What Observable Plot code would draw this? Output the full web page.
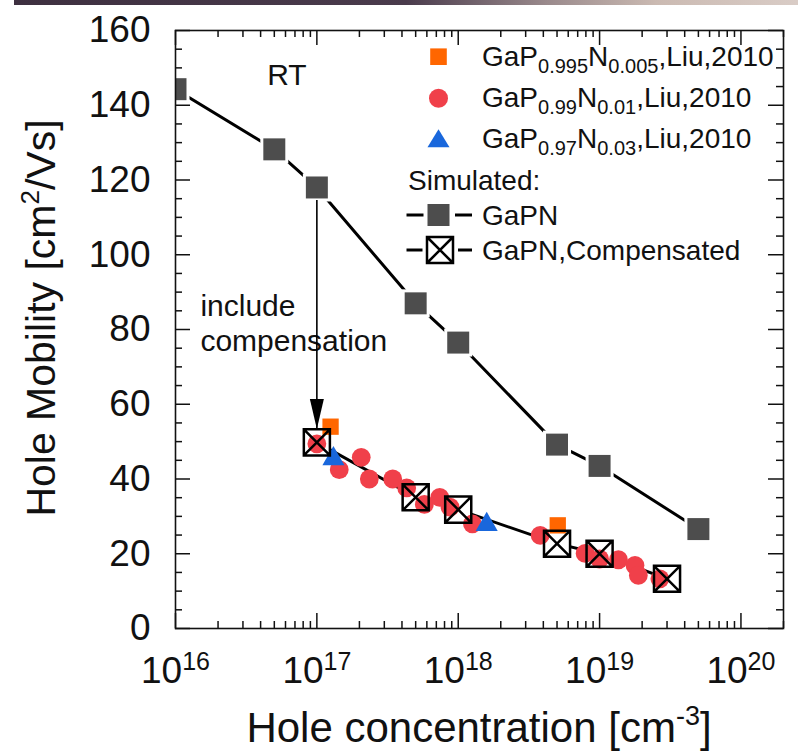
<!DOCTYPE html>
<html><head><meta charset="utf-8">
<script src="https://cdn.jsdelivr.net/npm/d3@7"></script>
<script src="https://cdn.jsdelivr.net/npm/@observablehq/plot@0.6"></script>
<style>
html,body{margin:0;padding:0;background:#fff;}
#wrap{position:relative;width:798px;height:752px;overflow:hidden;background:#fff;}
#band{position:absolute;top:0;left:14px;right:0;height:5px;background:linear-gradient(to right,#3e3040 0%,#4a3b4c 50%,#9a8a8c 68%,#cbbab2 82%,#d9ccc6 100%);}
</style></head>
<body><div id="wrap"><div id="chart"></div><div id="band"></div></div>
<script>
// ---- data ----
const gapnX = [1e16, 5e16, 1e17, 5e17, 1e18, 5e18, 1e19, 5e19];
const gapnY = [144.3, 128.2, 118.0, 87.0, 76.5, 49.2, 43.5, 26.6];
const compX = [1e17, 5e17, 1e18, 5e18, 1e19, 3e19];
const compY = [49.8, 35.1, 31.8, 22.7, 20.0, 13.3];
const redX = [1.0e17, 1.44e17, 2.06e17, 2.35e17, 3.44e17, 4.32e17, 5.76e17, 7.4e17, 8.75e17, 1.26e18, 3.8e18, 7.9e18, 1.0e19, 1.36e19, 1.78e19, 1.88e19, 2.67e19];
const redY = [49.4, 42.5, 45.8, 40.0, 40.0, 37.6, 33.2, 35.1, 32.5, 28.0, 24.9, 20.1, 18.6, 18.4, 16.9, 14.2, 13.3];
const blueX = [1.31e17, 1.59e18];
const blueY = [45.4, 27.8];
const orangeX = [1.25e17, 5.06e18];
const orangeY = [54.0, 27.6];

const xMajor = [1e16, 1e17, 1e18, 1e19, 1e20];
const xMinor = [];
for (const e of [16, 17, 18, 19]) for (const m of [2,3,4,5,6,7,8,9]) xMinor.push(m * 10 ** e);
xMinor.push(2e20);
const yMajor = [0, 20, 40, 60, 80, 100, 120, 140, 160];
const yMinor = d3.range(0, 161, 5).filter(v => v % 20 !== 0);

const legendLabels = [
  [["GaP"], ["0.995", 1], ["N"], ["0.005", 1], [",Liu,2010"]],
  [["GaP"], ["0.99", 1], ["N"], ["0.01", 1], [",Liu,2010"]],
  [["GaP"], ["0.97", 1], ["N"], ["0.03", 1], [",Liu,2010"]]
];
const simLabels = ["Simulated:", "GaPN", "GaPN,Compensated"];

const rtNote = [{x: 4.45e16, y: 147.9, text: "RT"}];
const compNote = [{x: 1.5e16, y: 90.3, text: "include\ncompensation"}];
const arrowNote = [{x: 1e17, y1: 114.5, y2: 53.4}];

// ---- tables ----
const gapn = gapnX.map((x, i) => ({x, y: gapnY[i]}));
const comp = compX.map((x, i) => ({x, y: compY[i]}));
const red = redX.map((x, i) => ({x, y: redY[i]}));
const blue = blueX.map((x, i) => ({x, y: blueY[i]}));
const orange = orangeX.map((x, i) => ({x, y: orangeY[i]}));

const boxX = {draw(ctx, size) {
  const s = Math.sqrt(size) / 2;
  ctx.moveTo(-s, -s); ctx.lineTo(s, -s); ctx.lineTo(s, s); ctx.lineTo(-s, s); ctx.closePath();
  ctx.moveTo(-s, -s); ctx.lineTo(s, s); ctx.moveTo(s, -s); ctx.lineTo(-s, s);
}};
const arrowHead = {draw(ctx) { ctx.moveTo(0, 0); ctx.lineTo(-7, -30); ctx.lineTo(7, -30); ctx.closePath(); }};

const W = 798, H = 752, mL = 175, mR = 15, mT = 30, mB = 124;
const pw = W - mL - mR, ph = H - mT - mB;
const ink = "#111";
const FONT = "'Liberation Sans', Arial, Helvetica, sans-serif";

const plot = Plot.plot({
  width: W, height: H, marginLeft: mL, marginRight: mR, marginTop: mT, marginBottom: mB,
  style: {fontFamily: FONT, background: "white", color: ink},
  x: {type: "log", domain: [1e16, 2e20]},
  y: {domain: [0, 160]},
  marks: [
    Plot.axisX({ticks: xMajor, tickSize: 0, tickPadding: 28, fontSize: 37, label: null,
      tickFormat: d => "10^" + Math.round(Math.log10(d))}),
    Plot.axisY({ticks: yMajor, tickSize: 0, tickPadding: 25, fontSize: 37, label: null}),
    // inward ticks
    Plot.ruleX(xMajor, {insetTop: ph - 15, stroke: ink, strokeWidth: 1.5}),
    Plot.ruleX(xMinor, {insetTop: ph - 7, stroke: ink, strokeWidth: 1.5}),
    Plot.ruleX(xMajor, {insetBottom: ph - 15, stroke: ink, strokeWidth: 1.5}),
    Plot.ruleX(xMinor, {insetBottom: ph - 7, stroke: ink, strokeWidth: 1.5}),
    Plot.ruleY(yMajor, {insetRight: pw - 15, stroke: ink, strokeWidth: 1.5}),
    Plot.ruleY(yMinor, {insetRight: pw - 7, stroke: ink, strokeWidth: 1.5}),
    Plot.ruleY(yMajor, {insetLeft: pw - 15, stroke: ink, strokeWidth: 1.5}),
    Plot.ruleY(yMinor, {insetLeft: pw - 7, stroke: ink, strokeWidth: 1.5}),
    // annotations
    Plot.text(rtNote, {x: "x", y: "y", text: "text", textAnchor: "start", fontSize: 30, fill: ink}),
    Plot.text(compNote, {x: "x", y: "y", text: "text", textAnchor: "start", lineAnchor: "top", lineHeight: 1.17, fontSize: 30, fill: ink}),
    // simulated GaPN
    Plot.line(gapn, {x: "x", y: "y", stroke: "#000", strokeWidth: 3, clip: true}),
    Plot.dot(gapn, {x: "x", y: "y", symbol: "square", r: 15.8, fill: "white", stroke: "none", clip: true}),
    Plot.dot(gapn, {x: "x", y: "y", symbol: "square", r: 12.4, fill: "#4d4d4d", stroke: "none", clip: true}),
    // compensated line + white box interiors
    Plot.line(comp, {x: "x", y: "y", stroke: "#000", strokeWidth: 3}),
    Plot.dot(comp, {x: "x", y: "y", symbol: "square", r: 14.7, fill: "white", stroke: "none"}),
    // experimental
    Plot.dot(red, {x: "x", y: "y", r: 9.4, fill: "#f0404a", stroke: "none"}),
    Plot.dot(blue, {x: "x", y: "y", symbol: "triangle", r: 8.2, fill: "#1967dc", stroke: "none"}),
    Plot.dot(orange, {x: "x", y: "y", symbol: "square", r: 9.2, fill: "#ff6600", stroke: "none"}),
    // compensated boxes
    Plot.dot(comp, {x: "x", y: "y", symbol: boxX, r: 14.7, fill: "none", stroke: "#000", strokeWidth: 2.5}),
    // arrow
    Plot.ruleX(arrowNote, {x: "x", y1: "y1", y2: "y2", stroke: "#000", strokeWidth: 1.6}),
    Plot.dot(arrowNote, {x: "x", y: "y2", symbol: arrowHead, r: 5, fill: "#000", stroke: "none"}),
    Plot.frame({stroke: ink, strokeWidth: 1.6})
  ]
});
document.getElementById("chart").appendChild(plot);

const svg = d3.select(plot);
const NS = "http://www.w3.org/2000/svg";

// superscripts in x tick labels
plot.querySelectorAll('g[aria-label="x-axis tick label"] text').forEach(t => {
  const [b, e] = t.textContent.split("^");
  t.textContent = "";
  const t1 = document.createElementNS(NS, "tspan"); t1.textContent = b; t.appendChild(t1);
  const t2 = document.createElementNS(NS, "tspan"); t2.textContent = e;
  t2.setAttribute("dy", "-13"); t2.setAttribute("font-size", "25"); t.appendChild(t2);
});

function rich(sel, parts, fs, subFs, shift) {
  let cur = 0;
  for (const [txt, sub] of parts) {
    const off = sub ? shift : 0;
    const ts = sel.append("tspan").text(txt).attr("dy", off - cur);
    if (sub) ts.attr("font-size", subFs);
    cur = off;
  }
}

// axis titles
const xt = svg.append("text").attr("x", (mL + W - mR) / 2).attr("y", 742)
  .attr("text-anchor", "middle").attr("font-size", 42).attr("fill", ink);
rich(xt, [["Hole concentration [cm"], ["-3", 1], ["]"]], 42, 27, -17);
const yt = svg.append("text").attr("transform", "translate(55,318) rotate(-90)")
  .attr("text-anchor", "middle").attr("font-size", 41).attr("fill", ink);
rich(yt, [["Hole Mobility [cm"], ["2", 1], ["/Vs]"]], 41, 26, -16);

// legend
const lg = svg.append("g").attr("font-size", 28).attr("fill", ink).attr("text-anchor", "start");
const rowY = [66, 107, 148];
const symX = 438.5, textX = 482;
lg.append("rect").attr("x", symX - 8.3).attr("y", 56.7 - 8.3).attr("width", 16.6).attr("height", 16.6).attr("fill", "#ff6600");
lg.append("circle").attr("cx", symX).attr("cy", 98.3).attr("r", 9.5).attr("fill", "#f0404a");
lg.append("path").attr("d", `M${symX},${129.3}L${symX + 11},${147.3}L${symX - 11},${147.3}Z`).attr("fill", "#1967dc");
legendLabels.forEach((parts, i) => {
  const t = lg.append("text").attr("x", textX).attr("y", rowY[i]).attr("text-anchor", "start");
  rich(t, parts, 28, 20, 7);
});
lg.append("text").attr("x", 408).attr("y", 190).attr("text-anchor", "start").text(simLabels[0]);
// GaPN row
lg.append("line").attr("x1", 406.5).attr("x2", 423.5).attr("y1", 215).attr("y2", 215).attr("stroke", "#000").attr("stroke-width", 3);
lg.append("line").attr("x1", 455).attr("x2", 472).attr("y1", 215).attr("y2", 215).attr("stroke", "#000").attr("stroke-width", 3);
lg.append("rect").attr("x", symX - 11).attr("y", 215 - 11).attr("width", 22).attr("height", 22).attr("fill", "#4d4d4d");
lg.append("text").attr("x", textX).attr("y", 225).attr("text-anchor", "start").text(simLabels[1]);
// Compensated row
lg.append("line").attr("x1", 406.5).attr("x2", 422.5).attr("y1", 250).attr("y2", 250).attr("stroke", "#000").attr("stroke-width", 3);
lg.append("line").attr("x1", 458).attr("x2", 472).attr("y1", 250).attr("y2", 250).attr("stroke", "#000").attr("stroke-width", 3);
const bx = 440, by = 250, s = 13;
lg.append("path").attr("d", `M${bx - s},${by - s}H${bx + s}V${by + s}H${bx - s}Z M${bx - s},${by - s}L${bx + s},${by + s} M${bx + s},${by - s}L${bx - s},${by + s}`)
  .attr("fill", "white").attr("stroke", "#000").attr("stroke-width", 2.5);
lg.append("text").attr("x", textX).attr("y", 260).attr("text-anchor", "start").text(simLabels[2]);
</script>
</body></html>
